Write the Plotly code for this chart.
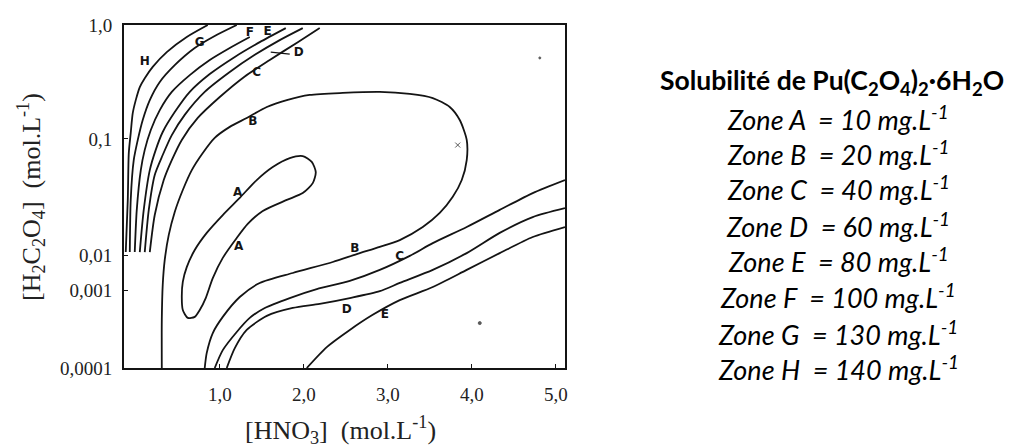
import plotly.graph_objects as go

# ---- data -------------------------------------------------------------
ZONES = ["A", "B", "C", "D", "E", "F", "G", "H"]
SOLUBILITY_MG_L = [10, 20, 40, 60, 80, 100, 130, 140]

X_TICKS = [1, 2, 3, 4, 5]
X_TICK_TEXT = ["1,0", "2,0", "3,0", "4,0", "5,0"]
# the drawn [H2C2O4] scale is not uniform: positions of each decade on it
Y_TICKS = [0.0, 0.227, 0.329, 0.668, 1.0]
Y_TICK_TEXT = ["0,0001", "0,001", "0,01", "0,1", "1,0"]

# iso-solubility curves: x = [HNO3] (mol/L), y = position on drawn scale
A_X = [1.988, 1.833, 1.631, 1.440, 1.238, 1.036, 0.845, 0.702, 0.607, 0.560, 0.548,
       0.560, 0.619, 0.702, 0.762, 0.833, 0.917, 1.036, 1.202, 1.333, 1.512, 1.798,
       1.988, 2.107, 2.143, 2.095, 1.988]
A_Y = [0.618, 0.612, 0.586, 0.548, 0.496, 0.446, 0.394, 0.344, 0.294, 0.251, 0.207,
       0.169, 0.146, 0.149, 0.169, 0.204, 0.262, 0.321, 0.379, 0.420, 0.458, 0.490,
       0.510, 0.539, 0.571, 0.601, 0.618]

B_X = [0.310, 0.310, 0.321, 0.345, 0.393, 0.464, 0.560, 0.667, 0.798, 0.940, 1.119,
       1.321, 1.560, 1.798, 2.071, 2.464, 2.905, 3.262, 3.536, 3.738, 3.857, 3.940,
       3.940, 3.881, 3.774, 3.619, 3.417, 3.143, 2.905, 2.631, 2.345, 1.869, 1.476,
       1.238, 1.036, 0.917, 0.845, 0.821]
B_Y = [0.0, 0.140, 0.242, 0.315, 0.388, 0.455, 0.519, 0.577, 0.627, 0.671, 0.703,
       0.729, 0.761, 0.781, 0.796, 0.802, 0.805, 0.799, 0.787, 0.761, 0.723, 0.665,
       0.606, 0.548, 0.499, 0.452, 0.411, 0.373, 0.353, 0.332, 0.309, 0.277, 0.248,
       0.207, 0.149, 0.102, 0.044, 0.0]

C_UP_X = [2.190, 1.929, 1.595, 1.298, 1.000, 0.738, 0.548, 0.429, 0.333, 0.226, 0.167]
C_UP_Y = [0.991, 0.950, 0.898, 0.850, 0.790, 0.729, 0.665, 0.606, 0.548, 0.446, 0.338]
C_LO_X = [5.11, 4.726, 4.333, 3.940, 3.536, 3.262, 2.905, 2.548, 2.155, 1.833, 1.536,
          1.357, 1.202, 1.036, 0.940]
C_LO_Y = [0.548, 0.510, 0.461, 0.411, 0.364, 0.327, 0.286, 0.254, 0.230, 0.204, 0.175,
          0.146, 0.105, 0.052, 0.0]

D_UP_X = [1.988, 1.714, 1.417, 1.119, 0.821, 0.583, 0.429, 0.321, 0.226, 0.155, 0.107]
D_UP_Y = [0.991, 0.956, 0.913, 0.863, 0.805, 0.738, 0.679, 0.621, 0.563, 0.461, 0.338]
D_LO_X = [5.11, 4.726, 4.333, 3.940, 3.536, 3.143, 2.905, 2.548, 2.190, 1.869, 1.560,
          1.321, 1.179, 1.083]
D_LO_Y = [0.466, 0.440, 0.394, 0.335, 0.286, 0.248, 0.224, 0.204, 0.187, 0.175, 0.152,
          0.111, 0.058, 0.0]

E_UP_X = [1.786, 1.476, 1.179, 0.881, 0.643, 0.464, 0.321, 0.238, 0.167, 0.095, 0.048]
E_UP_Y = [0.991, 0.950, 0.907, 0.857, 0.805, 0.746, 0.688, 0.636, 0.577, 0.461, 0.338]
E_LO_X = [5.11, 4.726, 4.333, 3.940, 3.536, 3.143, 2.821, 2.548, 2.274, 2.036]
E_LO_Y = [0.411, 0.382, 0.335, 0.286, 0.236, 0.198, 0.155, 0.111, 0.061, 0.0]

F_X = [1.357, 1.119, 0.881, 0.643, 0.429, 0.286, 0.179, 0.107, 0.060, 0.012, -0.012]
F_Y = [0.965, 0.933, 0.898, 0.854, 0.805, 0.752, 0.694, 0.636, 0.577, 0.461, 0.338]

G_X = [1.202, 0.940, 0.702, 0.464, 0.286, 0.167, 0.083, 0.024, -0.024, -0.060, -0.071]
G_Y = [1.0, 0.968, 0.933, 0.883, 0.834, 0.781, 0.723, 0.665, 0.606, 0.490, 0.338]

H_X = [0.857, 0.607, 0.369, 0.202, 0.107, 0.048, 0.0, -0.036, -0.060, -0.083, -0.095, -0.119]
H_Y = [1.0, 0.965, 0.921, 0.878, 0.845, 0.819, 0.781, 0.743, 0.685, 0.627, 0.490, 0.338]

# hand-written letters on the curves
LABEL_TEXT = ["H", "G", "F", "E", "D", "C", "B", "A", "A", "B", "C", "D", "E"]
LABEL_X = [0.107, 0.762, 1.357, 1.571, 1.940, 1.440, 1.393, 1.214, 1.226, 2.607, 3.143, 2.512, 2.964]
LABEL_Y = [0.892, 0.948, 0.977, 0.980, 0.918, 0.860, 0.717, 0.510, 0.353, 0.347, 0.324, 0.169, 0.155]
D_POINTER_X = [1.607, 1.833]
D_POINTER_Y = [0.921, 0.915]
# small stray marks of the original drawing
SPECK_X = [3.833, 4.81, 4.095]
SPECK_Y = [0.650, 0.904, 0.131]
SPECK_SYMBOL = ["x-thin", "circle", "circle"]

TITLE = "Solubilité de Pu(C<sub>2</sub>O<sub>4</sub>)<sub>2</sub>·6H<sub>2</sub>O"

# ---- figure -----------------------------------------------------------
INK = "#141414"
fig = go.Figure()

curves = [
    (A_X, A_Y), (B_X, B_Y), (C_UP_X, C_UP_Y), (C_LO_X, C_LO_Y),
    (D_UP_X, D_UP_Y), (D_LO_X, D_LO_Y), (E_UP_X, E_UP_Y), (E_LO_X, E_LO_Y),
    (F_X, F_Y), (G_X, G_Y), (H_X, H_Y),
]
for cx, cy in curves:
    fig.add_trace(go.Scatter(x=cx, y=cy, mode="lines",
                             line=dict(color=INK, width=1.8, shape="spline", smoothing=0.7),
                             hoverinfo="skip", showlegend=False))

fig.add_trace(go.Scatter(x=D_POINTER_X, y=D_POINTER_Y, mode="lines",
                         line=dict(color=INK, width=1.3), hoverinfo="skip", showlegend=False))

fig.add_trace(go.Scatter(x=SPECK_X, y=SPECK_Y, mode="markers",
                         marker=dict(symbol=SPECK_SYMBOL, size=[5, 2, 3], color=INK,
                                     line=dict(color=INK, width=1)),
                         hoverinfo="skip", showlegend=False))

fig.add_trace(go.Scatter(x=LABEL_X, y=LABEL_Y, mode="text", text=LABEL_TEXT,
                         textfont=dict(family="DejaVu Sans", size=12, color=INK, weight="bold"),
                         hoverinfo="skip", showlegend=False))

serif = "Liberation Serif"
fig.update_xaxes(range=[-0.14, 5.11], tickvals=X_TICKS, ticktext=X_TICK_TEXT,
                 showgrid=False, zeroline=False, showline=True, mirror=True,
                 linecolor=INK, linewidth=2, ticks="inside", ticklen=4, tickcolor=INK,
                 ticklabelstandoff=8, automargin=False,
                 tickfont=dict(family=serif, size=19, color="#222"))
fig.update_yaxes(range=[0, 1], tickvals=Y_TICKS, ticktext=Y_TICK_TEXT,
                 showgrid=False, zeroline=False, showline=True, mirror=True,
                 linecolor=INK, linewidth=2, ticks="inside", ticklen=4, tickcolor=INK,
                 ticklabelstandoff=6, automargin=False,
                 tickfont=dict(family=serif, size=19, color="#222"))

annotations = [
    dict(text="[HNO<sub>3</sub>]\u00a0 (mol.L<sup>-1</sup>)", xref="paper", yref="paper",
         x=0.49, y=-0.182, xanchor="center", yanchor="middle", showarrow=False,
         font=dict(family=serif, size=26, color="#222")),
    dict(text="[H<sub>2</sub>C<sub>2</sub>O<sub>4</sub>]\u00a0 (mol.L<sup>-1</sup>)",
         xref="paper", yref="paper", x=-0.211, y=0.4985, xanchor="center",
         yanchor="middle", textangle=-90, showarrow=False,
         font=dict(family=serif, size=26, color="#222")),
    dict(text="<b>" + TITLE + "</b>", xref="paper", yref="paper", x=1.605, y=0.835,
         xanchor="center", yanchor="middle", showarrow=False,
         font=dict(family="Lato", size=26.5, color="#000")),
]
zone_y = [0.728, 0.626, 0.524, 0.416, 0.314, 0.209, 0.101, -0.001]
for z, s, yy in zip(ZONES, SOLUBILITY_MG_L, zone_y):
    annotations.append(dict(
        text=f"<i>Zone {z}\u00a0 = {s} mg.L<sup>-1</sup></i>", xref="paper", yref="paper",
        x=1.62, y=yy, xanchor="center", yanchor="middle", showarrow=False,
        font=dict(family="Lato", size=27, color="#000")))

# the page body has an 8 px offset, so margins are reduced by 8 px on top/left
fig.update_layout(width=1016, height=448, margin=dict(l=116, r=459, t=17, b=88),
                  paper_bgcolor="white", plot_bgcolor="white",
                  annotations=annotations, showlegend=False)

fig.write_html("out.html")
